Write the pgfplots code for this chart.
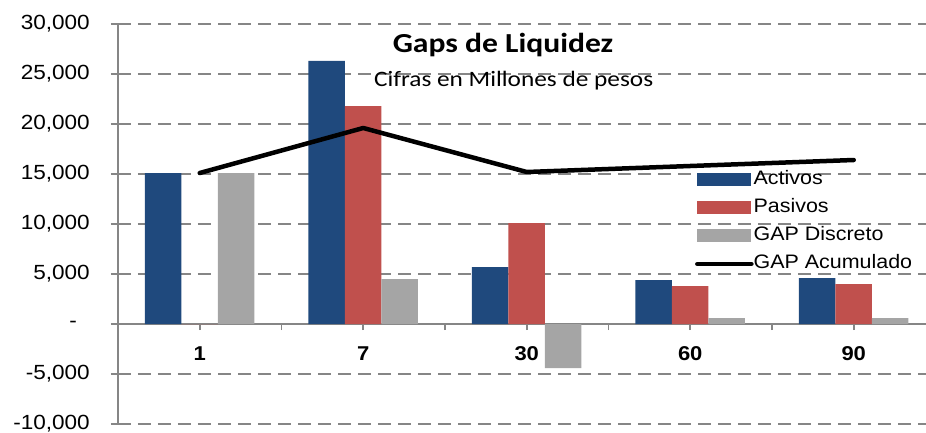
\documentclass[border=0pt]{standalone}
\usepackage{fontspec}
\setmainfont{Liberation Sans}[FakeStretch=1.1]
\newfontfamily\calibri{Carlito}[FakeStretch=1.15]
\usepackage{pgfplots}
\pgfplotsset{compat=1.18}
\definecolor{act}{RGB}{31,73,125}
\definecolor{pas}{RGB}{192,80,77}
\definecolor{gapd}{RGB}{165,165,165}
\definecolor{gridc}{RGB}{134,134,134}
\begin{document}
\begin{tikzpicture}
\begin{axis}[
  scale only axis, width=808pt, height=400pt,
  xmin=-0.5, xmax=4.442, ymin=-10000, ymax=30000,
  axis y line*=left, axis x line*=middle,
  axis line style={gridc, line width=1.6pt},
  scaled y ticks=false,
  ytick={-10000,-5000,...,30000},
  yticklabels={{-10,000},{-5,000},{-\hspace*{13pt}},{5,000},{10,000},{15,000},{20,000},{25,000},{30,000}},
  ymajorgrids,
  major grid style={gridc, line width=1.6pt, dash pattern=on 13pt off 7pt},
  xtick={0,...,4}, xticklabels={1,7,30,60,90},
  minor xtick={0.5,1.5,2.5,3.5},
  tick align=outside,
  major tick length=7pt, minor tick length=6pt,
  major x tick style={gridc, line width=1.6pt, /pgfplots/major tick length=6pt},
  minor x tick style={gridc, line width=1.6pt},
  ytick style={gridc, line width=1.6pt},
  tick label style={font=\fontsize{20.5}{20.5}\selectfont},
  yticklabel style={inner sep=0pt, xshift=-21pt},
  xticklabel style={font=\bfseries\fontsize{20}{20}\selectfont, yshift=-12pt},
  legend style={at={(0.714,0.632)}, anchor=north west, draw=none, fill=none,
    inner sep=0pt, row sep=11pt, font=\fontsize{19.5}{19.5}\selectfont,
    nodes={anchor=west, inner sep=0pt, text height=13pt, text depth=4pt},
    /tikz/every even column/.append style={column sep=5pt}},
  legend cell align=left,
  clip=false,
]
\addplot[ybar, bar width=36.5pt, bar shift=-36.5pt, fill=act, draw=none,
  legend image code/.code={\fill[act] (0pt,-6.5pt) rectangle (54pt,6.5pt);}]
  coordinates {(0,15100) (1,26300) (2,5700) (3,4400) (4,4600)};
\addlegendentry{Activos}
\addplot[ybar, bar width=36.5pt, bar shift=0pt, fill=pas, draw=none,
  legend image code/.code={\fill[pas] (0pt,-6.5pt) rectangle (54pt,6.5pt);}]
  coordinates {(0,0) (1,21800) (2,10100) (3,3800) (4,4000)};
\addlegendentry{Pasivos}
\addplot[ybar, bar width=36.5pt, bar shift=36.5pt, fill=gapd, draw=none,
  legend image code/.code={\fill[gapd] (0pt,-6.5pt) rectangle (54pt,6.5pt);}]
  coordinates {(0,15100) (1,4500) (2,-4400) (3,600) (4,600)};
\addlegendentry{GAP Discreto}
\addplot[black, line width=4.5pt, line cap=round, line join=round, mark=none,
  legend image code/.code={\draw[black, line width=4.5pt, line cap=round] (0pt,0pt) -- (54pt,0pt);}]
  coordinates {(0,15100) (1,19600) (2,15200) (3,15800) (4,16400)};
\addlegendentry{GAP Acumulado}
\node[font=\calibri\bfseries\fontsize{27.5}{27.5}\selectfont] at (axis cs:1.855,27900) {Gaps de Liquidez};
\node[font=\calibri\fontsize{22}{22}\selectfont] at (axis cs:1.92,24300) {Cifras en Millones de pesos};
\end{axis}
\pgfresetboundingbox
\path[use as bounding box] ([xshift=-118pt,yshift=-8pt]current axis.south west) rectangle ([yshift=24pt]current axis.north east);
\end{tikzpicture}
\end{document}
